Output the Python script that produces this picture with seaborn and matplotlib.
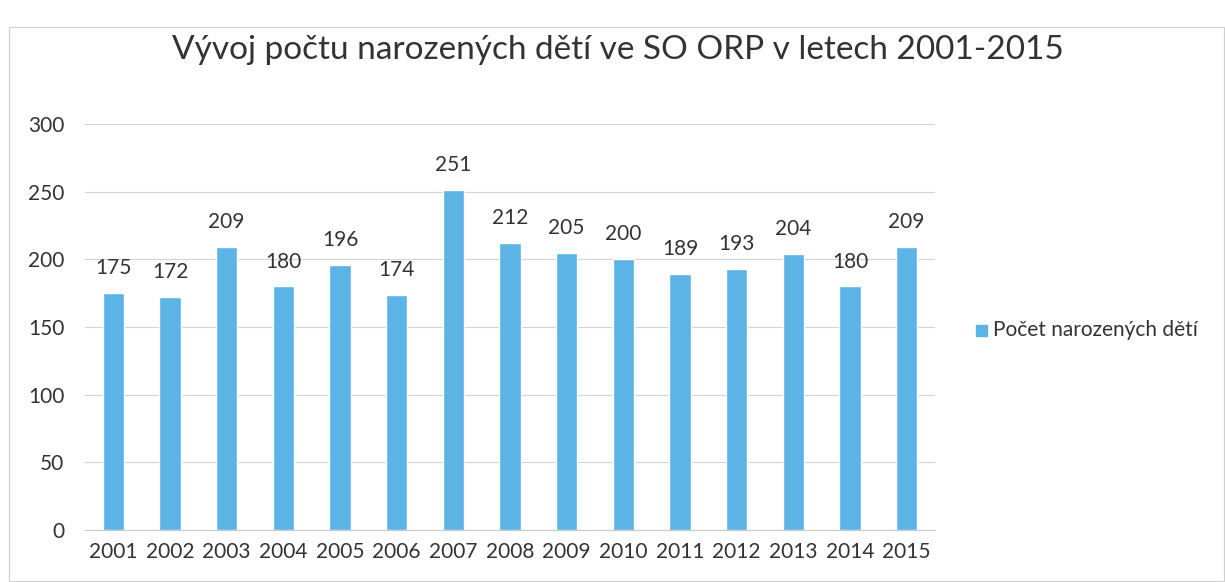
import matplotlib
matplotlib.use('Agg')
import matplotlib.pyplot as plt
import seaborn as sns
import pandas as pd
from matplotlib.patches import Rectangle

years = ['2001', '2002', '2003', '2004', '2005', '2006', '2007', '2008',
         '2009', '2010', '2011', '2012', '2013', '2014', '2015']
births = [175, 172, 209, 180, 196, 174, 251, 212, 205, 200, 189, 193, 204, 180, 209]
series_name = 'Počet narozených dětí'
title = 'Vývoj počtu narozených dětí ve SO ORP v letech 2001-2015'

df = pd.DataFrame({'rok': years, 'pocet': births, 'serie': series_name})

sns.set_style('white')
plt.rcParams['font.family'] = ['Lato', 'DejaVu Sans']

fig = plt.figure(figsize=(12.25, 5.82), dpi=100)
ax = fig.add_axes([85 / 1225, 52 / 582, 850 / 1225, 406 / 582])

bar_color = '#5BB4E5'
sns.barplot(data=df, x='rok', y='pocet', hue='serie', palette=[bar_color],
            saturation=1, width=0.38, ax=ax, legend=False)

# value labels above bars
for i, v in enumerate(births):
    ax.text(i, v + 11, str(v), ha='center', va='bottom', fontsize=15, color='#333333')

ax.set_ylim(0, 300)
ax.set_yticks(range(0, 301, 50))
ax.set_xlim(-0.5, len(years) - 0.5)
ax.yaxis.grid(True, color='#d4d4d4', linewidth=0.8)
ax.set_axisbelow(True)
for s in ['top', 'right', 'left']:
    ax.spines[s].set_visible(False)
ax.spines['bottom'].set_color('#c8c8c8')
ax.tick_params(axis='both', length=0, labelsize=15, labelcolor='#333333')
ax.tick_params(axis='y', pad=15)
ax.tick_params(axis='x', pad=9)
ax.set_xlabel('')
ax.set_ylabel('')

fig.text(618 / 1225, 1 - 50 / 582, title, ha='center', va='center', fontsize=24, color='#333333')

# legend
fig.patches.append(Rectangle((976 / 1225, 1 - 336 / 582), 11 / 1225, 11 / 582,
                             transform=fig.transFigure, color=bar_color))
fig.text(993 / 1225, 1 - 330 / 582, series_name, ha='left', va='center', fontsize=15, color='#333333')

# chart frame
fig.patches.append(Rectangle((9 / 1225, 0.002), 1 - 10 / 1225, 1 - 27 / 582 - 0.002,
                             transform=fig.transFigure, fill=False, edgecolor='#cfcfcf', linewidth=0.8))

fig.savefig('out.png', dpi=100)
